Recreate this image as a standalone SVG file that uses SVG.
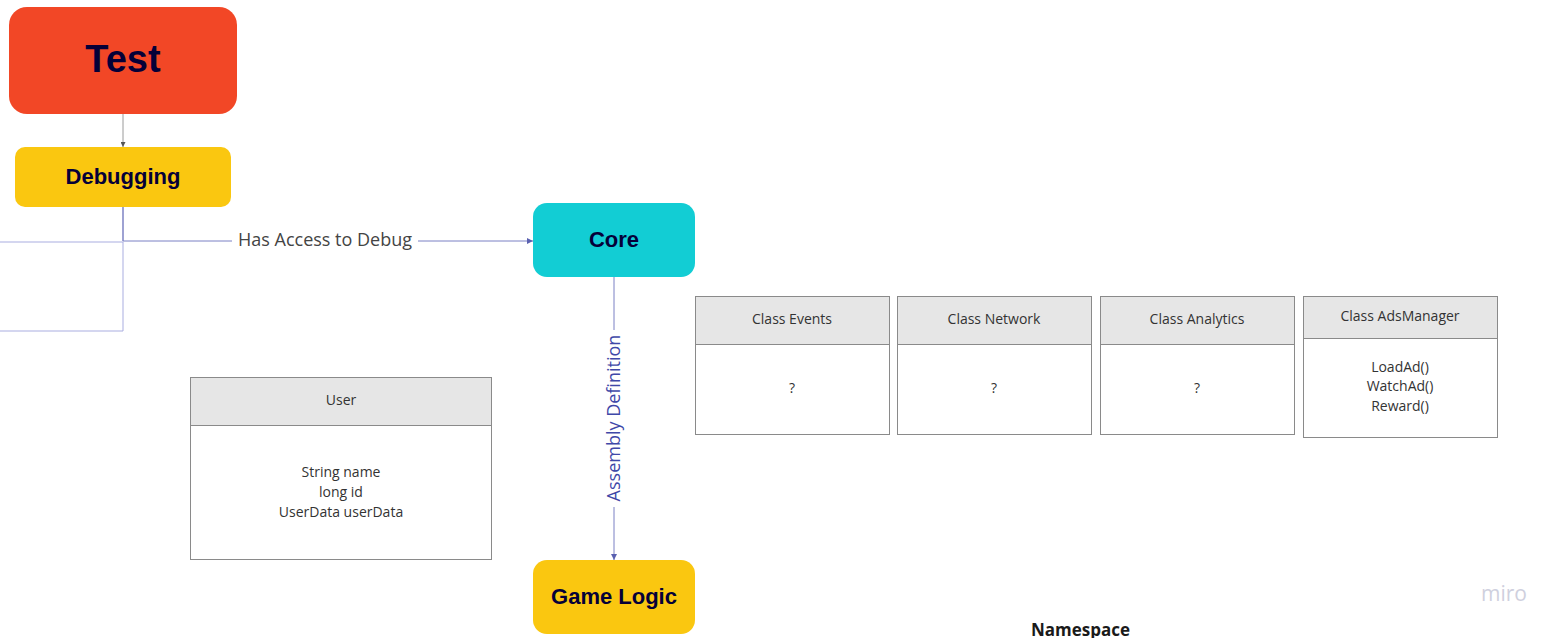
<svg xmlns="http://www.w3.org/2000/svg" width="1565" height="638" viewBox="0 0 1565 638">
<defs>
<style>
.bold{font-family:"Liberation Sans",Arial,sans-serif;font-weight:700;fill:#050038;text-anchor:middle}
.t{font-family:"Open Sans","Noto Sans",sans-serif;font-size:14px;fill:#333;text-anchor:middle}
.lbl{font-family:"Open Sans","Noto Sans",sans-serif;font-size:18px;text-anchor:middle}
.box{fill:#fff;stroke:#8a8a8a;stroke-width:1}
.hdr{fill:#e6e6e6;stroke:#8a8a8a;stroke-width:1}
.c{fill:none;stroke:#7b80c4;stroke-width:1}
.cl{fill:none;stroke:#a9ade0;stroke-width:1}
</style>
<marker id="ah" viewBox="0 0 6 6" refX="6" refY="3" markerWidth="6" markerHeight="6" orient="auto" markerUnits="userSpaceOnUse">
<path d="M0,0 L6,3 L0,6 z" fill="#5a60b0"/>
</marker>
<marker id="ahg" viewBox="0 0 6 6" refX="6" refY="3" markerWidth="5" markerHeight="5" orient="auto" markerUnits="userSpaceOnUse">
<path d="M0,0 L6,3 L0,6 z" fill="#555"/>
</marker>
</defs>
<rect width="1565" height="638" fill="#fff"/>
<g id="connectors">
<line x1="123" y1="114" x2="123" y2="147" stroke="#9a9a9a" stroke-width="1" marker-end="url(#ahg)"/>
<path class="cl" d="M0,242 H123 V331 H0"/>
<line x1="123" y1="207" x2="123" y2="241" stroke="#6a70bb" stroke-width="1.3"/>
<path class="c" d="M123,241 H232 M418,241 H533" marker-end="url(#ah)"/>
<text class="lbl" x="325" y="246" fill="#444">Has Access to Debug</text>
<path class="c" d="M614,277 V330 M614,507 V560" marker-end="url(#ah)"/>
<text class="lbl" transform="translate(620,418) rotate(-90)" fill="#3f48a8">Assembly Definition</text>
</g>
<g id="test">
<rect x="9" y="7" width="228" height="107" rx="18" fill="#f24726"/>
<text class="bold" x="123" y="72" font-size="38">Test</text>
</g>
<g id="debugging">
<rect x="15" y="147" width="216" height="60" rx="10" fill="#fac710"/>
<text class="bold" x="123" y="184" font-size="22">Debugging</text>
</g>
<g id="core">
<rect x="533" y="203" width="162" height="74" rx="14" fill="#12cdd4"/>
<text class="bold" x="614" y="247" font-size="22">Core</text>
</g>
<g id="gamelogic">
<rect x="533" y="560" width="162" height="74" rx="14" fill="#fac710"/>
<text class="bold" x="614" y="604" font-size="22">Game Logic</text>
</g>
<g id="user">
<rect class="box" x="190.5" y="377.5" width="301" height="182"/>
<rect class="hdr" x="190.5" y="377.5" width="301" height="48"/>
<text class="t" x="341" y="405">User</text>
<text class="t" x="341" y="477">String name</text>
<text class="t" x="341" y="497">long id</text>
<text class="t" x="341" y="517">UserData userData</text>
</g>
<g id="class-events">
<rect class="box" x="695.5" y="296.5" width="194" height="138"/>
<rect class="hdr" x="695.5" y="296.5" width="194" height="48"/>
<text class="t" x="792" y="324">Class Events</text>
<text class="t" x="792" y="393">?</text>
</g>
<g id="class-network">
<rect class="box" x="897.5" y="296.5" width="194" height="138"/>
<rect class="hdr" x="897.5" y="296.5" width="194" height="48"/>
<text class="t" x="994" y="324">Class Network</text>
<text class="t" x="994" y="393">?</text>
</g>
<g id="class-analytics">
<rect class="box" x="1100.5" y="296.5" width="194" height="138"/>
<rect class="hdr" x="1100.5" y="296.5" width="194" height="48"/>
<text class="t" x="1197" y="324">Class Analytics</text>
<text class="t" x="1197" y="393">?</text>
</g>
<g id="class-adsmanager">
<rect class="box" x="1303.5" y="296.5" width="194" height="141"/>
<rect class="hdr" x="1303.5" y="296.5" width="194" height="42"/>
<text class="t" x="1400" y="321">Class AdsManager</text>
<text class="t" x="1400" y="372">LoadAd()</text>
<text class="t" x="1400" y="391">WatchAd()</text>
<text class="t" x="1400" y="411">Reward()</text>
</g>
<text x="1031" y="636" font-family="'Open Sans','Noto Sans',sans-serif" font-size="17" font-weight="700" fill="#1a1a1a">Namespace</text>
<text x="1504" y="601" font-family="'Open Sans','Noto Sans',sans-serif" font-size="21" font-weight="400" fill="#cfd0de" text-anchor="middle">miro</text>
</svg>
